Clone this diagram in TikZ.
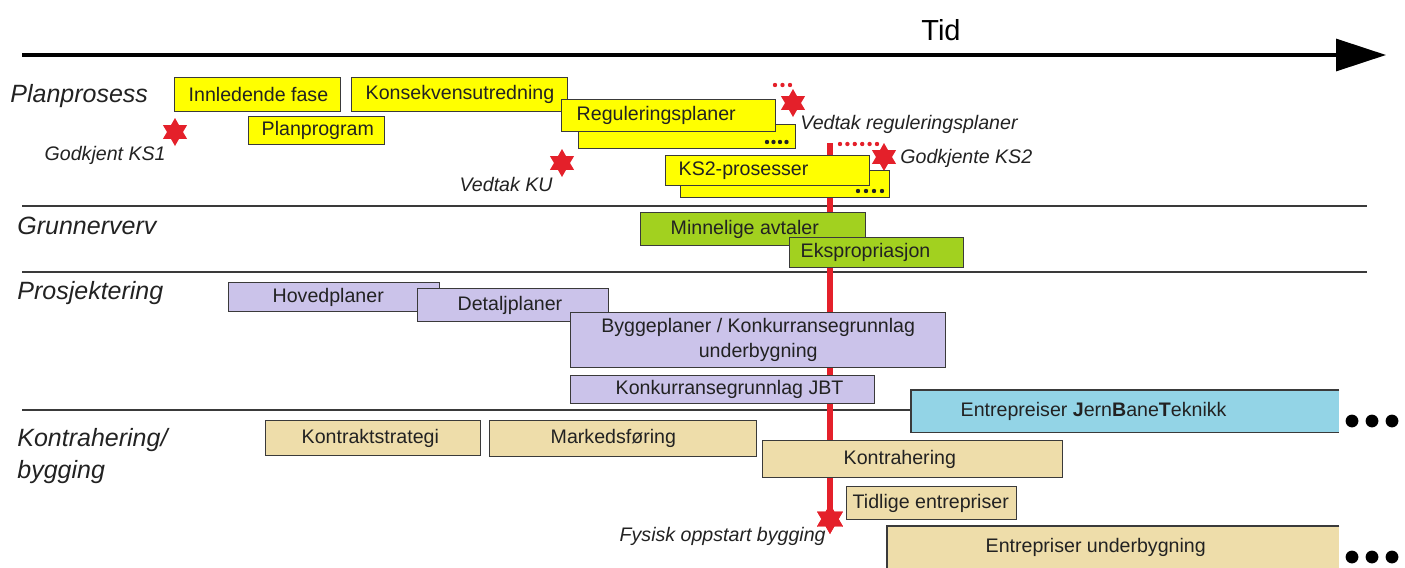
\documentclass[tikz,border=0pt]{standalone}
\usepackage{fontspec}
\setmainfont{Liberation Sans}
\usetikzlibrary{shapes.geometric,arrows.meta}

\definecolor{planfill}{HTML}{FFFF00}
\definecolor{landfill}{HTML}{A2D11F}
\definecolor{designfill}{HTML}{CBC3EA}
\definecolor{jbtfill}{HTML}{93D4E6}
\definecolor{buildfill}{HTML}{EEDDAA}
\definecolor{mred}{HTML}{E4202A}
\definecolor{rule}{HTML}{3A3A3A}
\definecolor{ink}{HTML}{222222}

% one bar of the schedule: name, style, x1, y1, x2, y2, text indent, text
\newcommand\taskbar[8]{%
  \node[#2, anchor=north west,
        minimum width={(#5-#3)*0.5pt}, minimum height={(#6-#4)*0.5pt}]
        (#1) at (#3,#4)
        {\makebox[\dimexpr(#5pt-#3pt)/2\relax][l]{\hspace*{\dimexpr#7pt/2\relax}#8}};%
}

\tikzset{
  bar/.style={draw=rule, line width=0.7pt, inner sep=0pt, text=ink,
              font=\fontsize{9.8}{12.5}\selectfont},
  planbar/.style={bar, fill=planfill},
  landbar/.style={bar, fill=landfill},
  designbar/.style={bar, fill=designfill},
  buildbar/.style={bar, fill=buildfill},
  openbar/.style={bar, draw=none},
  sect/.style={inner sep=0pt, text=ink, align=left,
               font=\fontsize{12.5}{16}\selectfont\itshape},
  mslabel/.style={inner sep=0pt, text=ink, font=\fontsize{9.8}{12}\selectfont\itshape},
  milestone/.style={star, star points=6, star point ratio=1.75, fill=mred,
                    draw=none, minimum size=14pt, inner sep=0pt},
  separator/.style={draw=rule, line width=0.75pt},
  redline/.style={draw=mred, line width=3pt},
}

\begin{document}
\begin{tikzpicture}[x=0.5pt,y=-0.5pt]
\useasboundingbox (0,0) rectangle (1405,568);

% time axis
\coordinate (t0) at (22,55);
\coordinate (t1) at (1386,55);
\draw[line width=1.6pt, -{Triangle[length=25pt,width=16pt]}] (t0) -- (t1);
\node[inner sep=0pt, font=\fontsize{14.5}{16}\selectfont] (tid) at (941,30) {Tid};

% lane separators
\coordinate (s1a) at (22,206);  \coordinate (s1b) at (1367,206);
\coordinate (s2a) at (22,272);  \coordinate (s2b) at (1367,272);
\coordinate (s3a) at (22,410);  \coordinate (s3b) at (911,410);
\draw[separator] (s1a) -- (s1b);
\draw[separator] (s2a) -- (s2b);
\draw[separator] (s3a) -- (s3b);

% lane titles
\node[sect, anchor=west] (lplan) at (10,96) {Planprosess};
\node[sect, anchor=west] (lland) at (17,226) {Grunnerverv};
\node[sect, anchor=west] (ldesign) at (17,293) {Prosjektering};
\node[sect, anchor=north west] (lbuild) at (17,428) {Kontrahering/\\bygging};

% milestones
\node[milestone] (msks1) at (175,132) {};
\node[milestone] (msku) at (562,163) {};
\node[milestone] (msreg) at (793,103) {};
\node[milestone] (msks2) at (884,157) {};
\node[milestone, minimum size=15pt] (msstart) at (830,519) {};

% critical path down to the start of construction
\coordinate (redtop) at (830,143);
\draw[redline] (redtop) -- (msstart.center);
\node[milestone, minimum size=15pt] at (msstart) {};
\foreach \i in {0,...,5} \fill[mred] (840+\i*7.4,144) circle (1.1pt);
\foreach \i in {0,...,2} \fill[mred] (775+\i*7.5,85) circle (1.1pt);

\node[mslabel, anchor=east] (lks1) at (166,155) {Godkjent KS1};
\node[mslabel, anchor=east] (lku) at (553,184) {Vedtak KU};
\node[mslabel, anchor=west] (lreg) at (800,124) {Vedtak reguleringsplaner};
\node[mslabel, anchor=west] (lks2) at (900,158) {Godkjente KS2};
\node[mslabel, anchor=east] (lstart) at (826,536) {Fysisk oppstart bygging};

% planning
\taskbar{innl}{planbar}{174}{77}{340}{111}{14}{Innledende fase}
\taskbar{ku}{planbar}{351}{77}{567}{111}{14}{Konsekvensutredning}
\taskbar{pprog}{planbar}{248}{116}{384}{144}{13}{Planprogram}
\taskbar{regb}{planbar}{578}{124}{795}{148}{0}{}
\foreach \i in {0,...,3} \fill[ink] (767+\i*6.5,142) circle (1.1pt);
\taskbar{reg}{planbar}{561}{99}{775}{131}{15}{Reguleringsplaner}
\taskbar{ks2b}{planbar}{680}{170}{889}{197}{0}{}
\foreach \i in {0,...,3} \fill[ink] (858+\i*8,191) circle (1.1pt);
\taskbar{ks2}{planbar}{665}{155}{869}{185}{13}{KS2-prosesser}

% land acquisition
\taskbar{minn}{landbar}{640}{212}{865}{245}{30}{Minnelige avtaler}
\taskbar{eksp}{landbar}{789}{237}{963}{267}{11}{Ekspropriasjon}

% design
\taskbar{hoved}{designbar}{228}{282}{439}{311}{44}{Hovedplaner}
\taskbar{detalj}{designbar}{417}{288}{608}{321}{40}{Detaljplaner}
\node[designbar, anchor=north west, align=center,
      minimum width={(945-570)*0.5pt}, minimum height={(367-312)*0.5pt}]
      (bygg) at (570,312) {Byggeplaner / Konkurransegrunnlag\\underbygning};
\taskbar{kjbt}{designbar}{570}{375}{874}{403}{45}{Konkurransegrunnlag JBT}

% procurement and construction
\taskbar{jbt}{openbar, fill=jbtfill}{911}{390}{1338}{431}{49}{Entrepreiser \textbf{J}ern\textbf{B}ane\textbf{T}eknikk}
\draw[draw=rule, line width=0.7pt] (jbt.north east) -- (jbt.north west) -- (jbt.south west) -- (jbt.south east);
\taskbar{kstrat}{buildbar}{265}{420}{480}{455}{36}{Kontraktstrategi}
\taskbar{mark}{buildbar}{489}{420}{756}{456}{61}{Markedsføring}
\taskbar{kontr}{buildbar}{762}{440}{1062}{477}{81}{Kontrahering}
\taskbar{tidl}{buildbar}{846}{486}{1016}{519}{6}{Tidlige entrepriser}
\taskbar{eunder}{openbar, fill=buildfill}{887}{526}{1338}{567}{98}{Entrepriser underbygning}
\draw[draw=rule, line width=0.7pt] (eunder.north east) -- (eunder.north west) -- (eunder.south west);

% continuation marks
\foreach \i in {0,1,2} {
  \fill[black] (1352+\i*20,421) circle (3.2pt);
  \fill[black] (1352+\i*20,557) circle (3.2pt);
}
\end{tikzpicture}
\end{document}
